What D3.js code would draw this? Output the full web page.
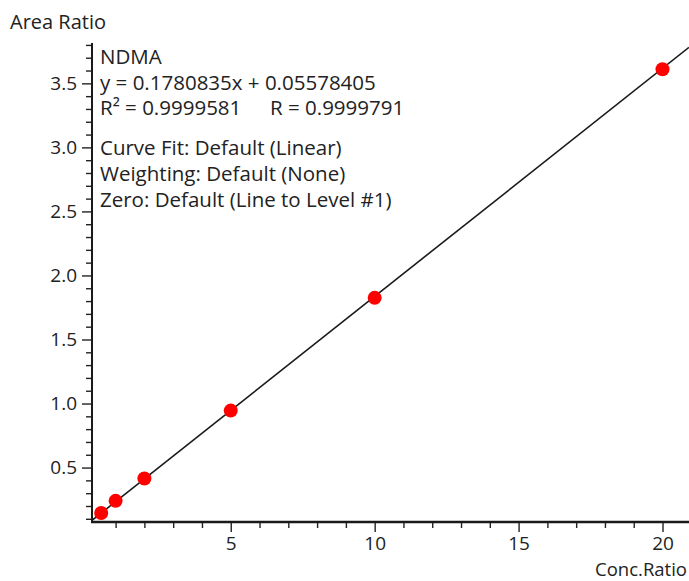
<!DOCTYPE html>
<html>
<head>
<meta charset="utf-8">
<script src="https://cdn.jsdelivr.net/npm/d3@7/dist/d3.min.js"></script>
<style>
  body { margin: 0; background: #fff; }
  svg text { font-family: "Open Sans", "Noto Sans", sans-serif; fill: #222; }
</style>
</head>
<body>
<div id="chart-container"></div>
<script>
// calibration points (NDMA)
const concRatio = [0.5, 1, 2, 5, 10, 20];
const areaRatio = [0.145, 0.24, 0.415, 0.945, 1.825, 3.61];

// fit result
const slope = 0.1780835;
const intercept = 0.05578405;

const xMajorTicks = [5, 10, 15, 20];
const yMajorTicks = [0.5, 1.0, 1.5, 2.0, 2.5, 3.0, 3.5];

// each entry: [text, optional second column text]
const infoLines = [
  ['NDMA'],
  ['y = 0.1780835x + 0.05578405'],
  ['R\u00b2 = 0.9999581', 'R = 0.9999791'],
  null,
  ['Curve Fit: Default (Linear)'],
  ['Weighting: Default (None)'],
  ['Zero: Default (Line to Level #1)'],
];

const width = 689;
const height = 581;
const margin = {
  top: 43, right: 0, bottom: 59, left: 92,
};

const drawChart = () => {
  const svg = d3
    .select('#chart-container')
    .append('svg')
    .attr('width', width)
    .attr('height', height);

  const x = d3
    .scaleLinear()
    .domain([0.18, 20.92])
    .range([margin.left, width - margin.right]);

  const y = d3
    .scaleLinear()
    .domain([0.075, 3.815])
    .range([height - margin.bottom, margin.top]);

  const xMinor = d3.range(1, 21).filter((v) => !xMajorTicks.includes(v));
  const yMinor = d3.range(1, 39)
    .map((v) => v / 10)
    .filter((v) => !yMajorTicks.some((m) => Math.abs(m - v) < 1e-6));

  // clip for the fit line
  svg.append('clipPath')
    .attr('id', 'plot-clip')
    .append('rect')
    .attr('x', margin.left)
    .attr('y', margin.top)
    .attr('width', width - margin.left - margin.right)
    .attr('height', height - margin.top - margin.bottom);

  // fit line
  const [x0, x1] = x.domain();
  svg.append('line')
    .attr('clip-path', 'url(#plot-clip)')
    .attr('x1', x(x0))
    .attr('y1', y(slope * x0 + intercept))
    .attr('x2', x(x1))
    .attr('y2', y(slope * x1 + intercept))
    .style('stroke', '#1a1a1a')
    .style('stroke-width', 1.6);

  // points
  svg.selectAll('circle.pt')
    .data(concRatio)
    .enter()
    .append('circle')
    .attr('class', 'pt')
    .attr('cx', (d) => x(d))
    .attr('cy', (d, i) => y(areaRatio[i]))
    .attr('r', 7)
    .style('fill', '#ff0000');

  // x axis
  const xAxisY = height - margin.bottom;
  const gx = svg.append('g')
    .attr('transform', `translate(0, ${xAxisY + 1})`);
  gx.call(d3.axisBottom(x).tickValues(xMajorTicks).tickSize(9).tickSizeOuter(0));
  gx.append('g').call(d3.axisBottom(x).tickValues(xMinor).tickSize(5).tickFormat(''));
  gx.selectAll('.domain').remove();
  gx.selectAll('line').style('stroke', '#222').style('stroke-width', 1.4);
  gx.selectAll('text')
    .style('font-size', '19px')
    .attr('y', 14)
    .attr('dy', '0.71em');

  svg.append('line')
    .attr('x1', margin.left - 1)
    .attr('x2', width)
    .attr('y1', xAxisY)
    .attr('y2', xAxisY)
    .style('stroke', '#1a1a1a')
    .style('stroke-width', 2.6);

  // y axis
  const gy = svg.append('g')
    .attr('transform', `translate(${margin.left - 1}, 0)`);
  gy.call(d3.axisLeft(y).tickValues(yMajorTicks).tickSize(9).tickFormat(d3.format('.1f')));
  gy.append('g').call(d3.axisLeft(y).tickValues(yMinor).tickSize(5).tickFormat(''));
  gy.selectAll('.domain').remove();
  gy.selectAll('line').style('stroke', '#222').style('stroke-width', 1.4);
  gy.selectAll('text')
    .style('font-size', '19px')
    .attr('x', -14);

  svg.append('line')
    .attr('x1', margin.left)
    .attr('x2', margin.left)
    .attr('y1', margin.top)
    .attr('y2', xAxisY + 1)
    .style('stroke', '#1a1a1a')
    .style('stroke-width', 2);

  // axis titles
  svg.append('text')
    .attr('x', 10)
    .attr('y', 29)
    .style('font-size', '20px')
    .text('Area Ratio');

  svg.append('text')
    .attr('x', 687)
    .attr('y', 575.5)
    .attr('text-anchor', 'end')
    .style('font-size', '18.5px')
    .text('Conc.Ratio');

  // fit info block
  let lineY = 64;
  infoLines.forEach((line) => {
    if (line === null) {
      lineY += 14;
      return;
    }
    svg.append('text')
      .attr('x', 100)
      .attr('y', lineY)
      .style('font-size', '20.5px')
      .text(line[0]);
    if (line[1]) {
      svg.append('text')
        .attr('x', 270)
        .attr('y', lineY)
        .style('font-size', '20.5px')
        .text(line[1]);
    }
    lineY += 25.7;
  });
};

drawChart();
</script>
</body>
</html>
